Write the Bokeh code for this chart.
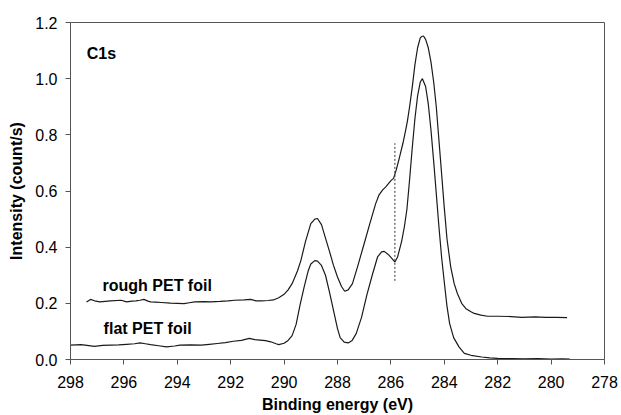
from bokeh.plotting import figure
from bokeh.models import Range1d, FixedTicker, Label
from bokeh.embed import file_html
from bokeh.resources import INLINE

# ---- data ----
flat_x = [298.0, 297.6, 297.1, 296.8, 296.5, 296.2, 295.9, 295.6, 295.4, 295.2, 295.0,
          294.7, 294.4, 294.1, 293.9, 293.5, 293.1, 292.8, 292.5, 292.2, 291.9, 291.6,
          291.3, 291.1, 290.9, 290.7, 290.5, 290.3, 290.2, 290.0, 289.85, 289.7, 289.55,
          289.4, 289.25, 289.1, 289.0, 288.85, 288.75, 288.6, 288.45, 288.3, 288.15,
          288.0, 287.9, 287.75, 287.6, 287.45, 287.3, 287.1, 286.9, 286.7, 286.5,
          286.35, 286.25, 286.1, 285.95, 285.85, 285.75, 285.6, 285.5, 285.4, 285.3,
          285.2, 285.1, 285.0, 284.9, 284.82, 284.7, 284.6, 284.5, 284.4, 284.3, 284.2,
          284.1, 284.0, 283.9, 283.8, 283.65, 283.45, 283.25, 283.0, 282.6, 282.3,
          282.0, 281.5, 281.0, 280.5, 280.0, 279.6, 279.3]
flat_y = [0.051, 0.053, 0.047, 0.050, 0.051, 0.052, 0.054, 0.056, 0.059, 0.056, 0.053,
          0.049, 0.045, 0.048, 0.051, 0.052, 0.051, 0.054, 0.057, 0.060, 0.065, 0.068,
          0.075, 0.071, 0.069, 0.067, 0.063, 0.056, 0.053, 0.058, 0.068, 0.085, 0.125,
          0.195, 0.258, 0.315, 0.340, 0.352, 0.350, 0.335, 0.300, 0.240, 0.175,
          0.110, 0.078, 0.062, 0.059, 0.068, 0.092, 0.150, 0.230, 0.300, 0.365,
          0.383, 0.385, 0.374, 0.358, 0.347, 0.365, 0.420, 0.470, 0.535, 0.640,
          0.754, 0.858, 0.939, 0.988, 1.000, 0.972, 0.910, 0.818, 0.708, 0.590, 0.472,
          0.363, 0.275, 0.190, 0.128, 0.078, 0.045, 0.022, 0.015, 0.009, 0.006,
          0.004, 0.003, 0.002, 0.003, 0.001, 0.002, 0.001]

rough_x = [297.4, 297.25, 297.1, 296.9, 296.7, 296.5, 296.1, 295.9, 295.7, 295.55,
           295.4, 295.25, 295.1, 295.0, 294.8, 294.6, 294.25, 294.0, 293.75, 293.55,
           293.35, 293.0, 292.75, 292.4, 292.1, 291.85, 291.5, 291.25, 291.05, 290.85,
           290.6, 290.4, 290.2, 290.0, 289.85, 289.7, 289.5, 289.37, 289.2, 289.0,
           288.85, 288.75, 288.6, 288.5, 288.3, 288.15, 288.0, 287.85, 287.73, 287.6,
           287.44, 287.25, 287.0, 286.8, 286.57, 286.45, 286.3, 286.2, 286.1, 286.0,
           285.9, 285.8, 285.69, 285.55, 285.45, 285.38, 285.3, 285.2, 285.1, 285.0,
           284.9, 284.85, 284.78, 284.7, 284.6, 284.5, 284.4, 284.3, 284.2, 284.1,
           284.0, 283.9, 283.76, 283.63, 283.51, 283.35, 283.19, 283.0, 282.88, 282.63,
           282.38, 282.0, 281.5, 281.1, 280.6, 280.2, 279.8, 279.4]
rough_y = [0.205, 0.214, 0.209, 0.205, 0.207, 0.209, 0.211, 0.205, 0.208, 0.209,
           0.211, 0.214, 0.208, 0.205, 0.204, 0.203, 0.201, 0.200, 0.199, 0.202,
           0.205, 0.206, 0.205, 0.207, 0.209, 0.211, 0.212, 0.214, 0.209, 0.209,
           0.210, 0.212, 0.220, 0.232, 0.248, 0.270, 0.315, 0.353, 0.420, 0.484,
           0.500, 0.502, 0.480, 0.448, 0.385, 0.335, 0.294, 0.260, 0.243, 0.248,
           0.270, 0.330, 0.413, 0.480, 0.555, 0.585, 0.605, 0.614, 0.625, 0.637,
           0.645, 0.675, 0.715, 0.770, 0.815, 0.850, 0.900, 0.970, 1.050, 1.110,
           1.145, 1.150, 1.152, 1.140, 1.110, 1.060, 0.990, 0.900, 0.780, 0.660,
           0.540, 0.430, 0.330, 0.270, 0.235, 0.200, 0.181, 0.170, 0.164, 0.158,
           0.154, 0.154, 0.153, 0.150, 0.152, 0.150, 0.150, 0.149]

dash_x = [285.85, 285.85]
dash_y = [0.28, 0.77]

x_ticks = [298, 296, 294, 292, 290, 288, 286, 284, 282, 280, 278]
x_tick_labels = ["298", "296", "294", "292", "290", "288", "286", "284", "282", "280", "278"]
y_ticks = [0.0, 0.2, 0.4, 0.6, 0.8, 1.0, 1.2]
y_tick_labels = ["0.0", "0.2", "0.4", "0.6", "0.8", "1.0", "1.2"]

FONT = "Liberation Sans"
AX = "#555555"

p = figure(width=621, height=415, output_backend="svg", toolbar_location=None,
           x_range=Range1d(298, 278), y_range=Range1d(0, 1.2),
           min_border_left=70, min_border_right=17, min_border_top=22,
           min_border_bottom=56, background_fill_color="white",
           border_fill_color="white")
p.xgrid.visible = False
p.ygrid.visible = False
p.outline_line_color = AX
p.outline_line_width = 1

p.line(flat_x, flat_y, line_color="#1a1a1a", line_width=1.2)
p.line(rough_x, rough_y, line_color="#1a1a1a", line_width=1.2)
p.line(dash_x, dash_y, line_color="#333333", line_width=1, line_dash="2 2")

p.xaxis.ticker = FixedTicker(ticks=x_ticks)
p.yaxis.ticker = FixedTicker(ticks=y_ticks)
p.xaxis.major_label_overrides = {t: l for t, l in zip(x_ticks, x_tick_labels)}
p.yaxis.major_label_overrides = {t: l for t, l in zip(y_ticks, y_tick_labels)}

for ax in (p.xaxis, p.yaxis):
    ax.axis_line_color = AX
    ax.major_tick_line_color = AX
    ax.major_tick_out = 5
    ax.major_tick_in = 0
    ax.minor_tick_out = 0
    ax.minor_tick_in = 0
    ax.major_label_text_font = FONT
    ax.major_label_text_font_size = "16px"
    ax.major_label_text_color = "black"
    ax.axis_label_text_font = FONT
    ax.axis_label_text_font_size = "16px"
    ax.axis_label_text_font_style = "bold"
    ax.axis_label_text_color = "black"

p.xaxis.axis_label = "Binding energy (eV)"
p.yaxis.axis_label = "Intensity (count/s)"
p.xaxis.major_label_standoff = 11
p.xaxis.axis_label_standoff = 5
p.yaxis.major_label_standoff = 8
p.yaxis.axis_label_standoff = 7

for txt, x, y in [("C1s", 297.39, 1.089), ("rough PET foil", 296.8, 0.264),
                  ("flat PET foil", 296.76, 0.110)]:
    p.add_layout(Label(x=x, y=y, text=txt, text_font=FONT, text_font_size="16px",
                       text_font_style="bold", text_color="black",
                       text_align="left", text_baseline="alphabetic"))

open("out.html", "w").write(file_html(p, INLINE))
